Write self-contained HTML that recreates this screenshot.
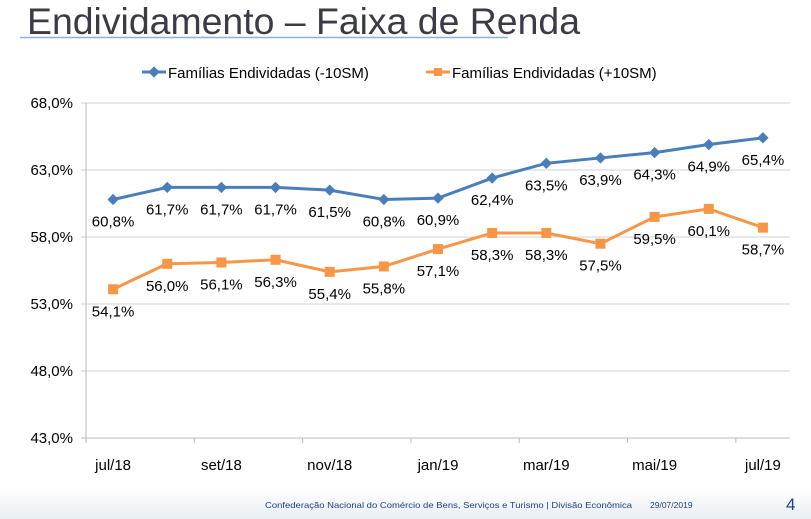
<!DOCTYPE html>
<html><head><meta charset="utf-8"><style>
body{margin:0;width:811px;height:519px;overflow:hidden;background:#fff;font-family:"Liberation Sans",sans-serif;}
svg{display:block}
</style></head><body>
<svg id="c" width="811" height="519" xmlns="http://www.w3.org/2000/svg">
<defs><linearGradient id="fg" x1="0" y1="0" x2="0" y2="1"><stop offset="0" stop-color="#fff"/><stop offset="1" stop-color="#e8eef4"/></linearGradient></defs>
<rect x="0" y="488" width="811" height="31" fill="url(#fg)"/>
<text x="27" y="34" font-size="37" fill="#3b3b48" textLength="553" lengthAdjust="spacingAndGlyphs">Endividamento – Faixa de Renda</text>
<line x1="20" y1="37.5" x2="508" y2="37.5" stroke="#8fb0cf" stroke-width="1.5"/>
<g>
<g>
<line x1="142" y1="72" x2="166" y2="72" stroke="#4a7ebb" stroke-width="3"/>
<rect x="150" y="68" width="8" height="8" fill="#4a7ebb" transform="rotate(45 154 72)"/>
<text x="168" y="78" font-size="15" fill="#000">Famílias Endividadas (-10SM)</text></g>
<g>
<line x1="426" y1="72" x2="450" y2="72" stroke="#f79646" stroke-width="3"/>
<rect x="434" y="68" width="8" height="8" fill="#f79646"/>
<text x="452" y="78" font-size="15" fill="#000">Famílias Endividadas (+10SM)</text></g>
</g>
<g id="axes"></g>
<g id="marks"></g>
<text x="265" y="508" font-size="8.5" fill="#1f3f7f" textLength="367" lengthAdjust="spacingAndGlyphs">Confederação Nacional do Comércio de Bens, Serviços e Turismo | Divisão Econômica</text>
<text x="650" y="508" font-size="8.5" fill="#1f3f7f">29/07/2019</text>
<text x="786" y="510" font-size="17" fill="#1f3f7f">4</text>
</svg>
<script>
const categories=["jul/18","ago/18","set/18","out/18","nov/18","dez/18","jan/19","fev/19","mar/19","abr/19","mai/19","jun/19","jul/19"];
const seriesLow=[60.8,61.7,61.7,61.7,61.5,60.8,60.9,62.4,63.5,63.9,64.3,64.9,65.4];
const seriesHigh=[54.1,56.0,56.1,56.3,55.4,55.8,57.1,58.3,58.3,57.5,59.5,60.1,58.7];
const yTicks=[43,48,53,58,63,68];
const NS="http://www.w3.org/2000/svg";
const L=86,R=790,T=103,B=438,ymin=43,ymax=68;
const bw=(R-L)/categories.length;
const xs=i=>L+bw*(i+0.5);
const ys=v=>B-(v-ymin)/(ymax-ymin)*(B-T);
const fmt=v=>v.toFixed(1).replace('.',',')+'%';
function mk(t,a,p){const e=document.createElementNS(NS,t);for(const k in a)e.setAttribute(k,a[k]);p.appendChild(e);return e;}
const ax=document.getElementById('axes'),mg=document.getElementById('marks');
yTicks.forEach(v=>{
 const g=mk('line',{x1:L-5,x2:R,y1:ys(v),y2:ys(v),stroke:v===ymin?'#bbb':'#d0d0d0'},ax);
 
 
 const t=mk('text',{x:L-13,y:ys(v)+5,'text-anchor':'end','font-size':15,fill:'#000'},ax);
 t.textContent=fmt(v);
 
 
});
mk('line',{x1:L,x2:L,y1:T,y2:B,stroke:'#bbb'},ax);
for(let i=0;i<=categories.length;i+=2){
 const tk=mk('line',{x1:L+bw*i,x2:L+bw*i,y1:B,y2:B+5,stroke:'#bbb'},ax);
 
 
}
categories.forEach((c,i)=>{ if(i%2)return;
 const t=mk('text',{x:xs(i),y:B+32,'text-anchor':'middle','font-size':15,fill:'#000'},ax);
 t.textContent=c;
 
 
});
function series(vals,color,shape,name){
 const pl=mk('polyline',{points:vals.map((v,i)=>xs(i)+','+ys(v)).join(' '),fill:'none',stroke:color,'stroke-width':3},mg);
 
 
 vals.forEach((v,i)=>{
  const x=xs(i),y=ys(v);let m;
  if(shape==='d')m=mk('rect',{x:x-4,y:y-4,width:8,height:8,fill:color,transform:`rotate(45 ${x} ${y})`},mg);
  else m=mk('rect',{x:x-5,y:y-5,width:10,height:10,fill:color},mg);
  
  
  const t=mk('text',{x:x,y:y+27,'text-anchor':'middle','font-size':15,fill:'#000'},mg);
  t.textContent=fmt(v);
  
  
 });
}
series(seriesLow,'#4a7ebb','d','series-below-10sm');
series(seriesHigh,'#f79646','s','series-above-10sm');
</script>
</body></html>
